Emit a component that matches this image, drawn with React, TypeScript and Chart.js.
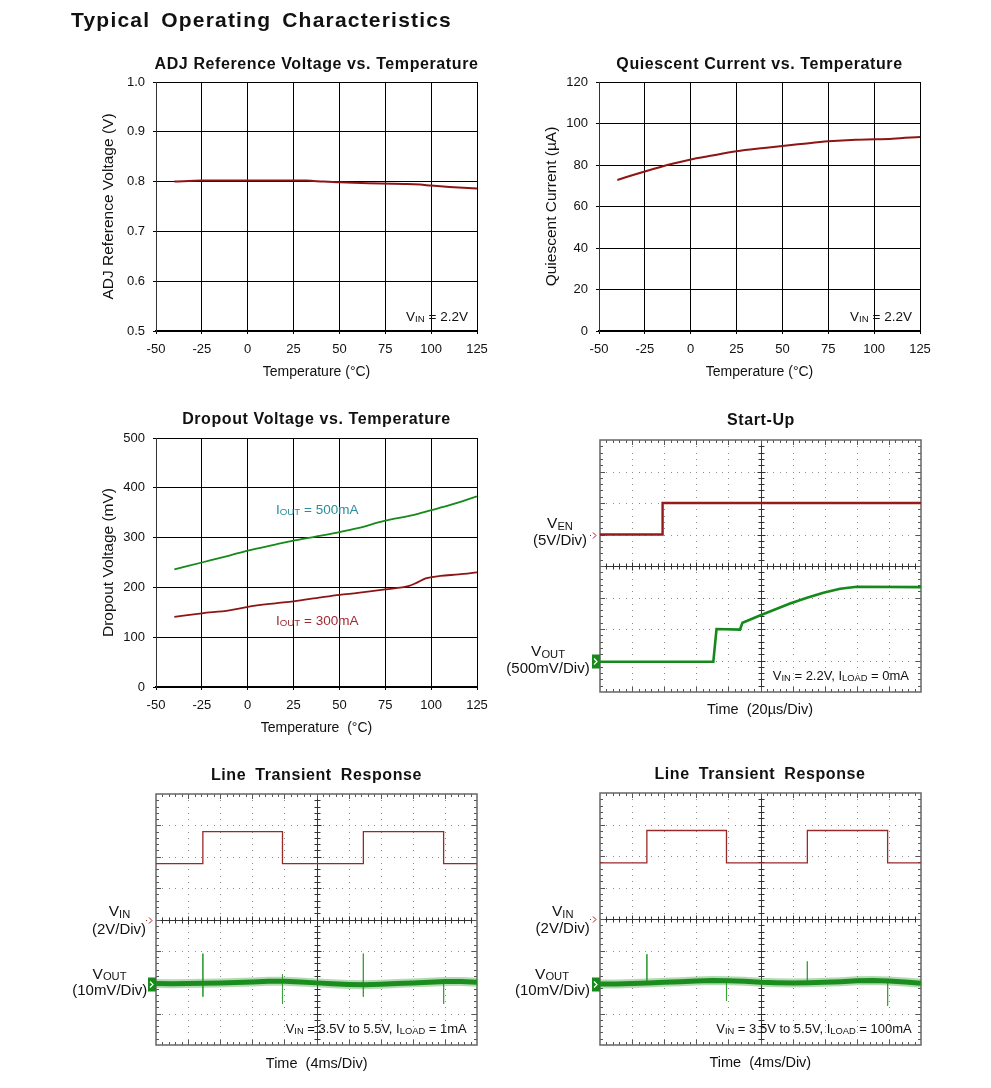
import React, { useEffect, useRef } from 'react';
import { Chart, registerables } from 'chart.js';

Chart.register(...registerables);

const FONT = '"Liberation Sans", Arial, Helvetica, sans-serif';
Chart.defaults.font.family = FONT;
const W = 991;
const H = 1088;

// ---------- data ----------
const TEMP_X_TICKS = ['-50', '-25', '0', '25', '50', '75', '100', '125'];

const ADJ_Y_TICKS = ['0.5', '0.6', '0.7', '0.8', '0.9', '1.0'];
const ADJ_T = [-40, -25, 0, 25, 32, 41, 50, 62, 73, 87, 94, 100, 110, 125];
const ADJ_V = [0.8, 0.802, 0.802, 0.802, 0.802, 0.8, 0.7987, 0.7973, 0.796, 0.7953, 0.794, 0.792, 0.7893, 0.7859];

const QC_Y_TICKS = ['0', '20', '40', '60', '80', '100', '120'];
const QC_T = [-40, -25, -10, 0, 10, 25, 40, 50, 60, 75, 90, 100, 110, 125];
const QC_I = [72.8, 76.9, 80.6, 82.7, 84.3, 86.6, 88.2, 89.2, 90.1, 91.4, 92.2, 92.4, 92.7, 93.5];

const DO_Y_TICKS = ['0', '100', '200', '300', '400', '500'];
const DO500_T = [-40, -25, -10, 0, 15, 25, 37, 50, 60, 75, 90, 100, 110, 125];
const DO500_V = [236, 250, 264, 274, 286, 294, 302, 311, 319, 334, 345, 355, 365, 383];
const DO300_T = [-40, -25, -10, 0, 15, 25, 40, 50, 60, 75, 88, 92, 97, 105, 115, 125];
const DO300_V = [141, 148, 154, 161, 168, 172, 180, 185, 189, 196, 203, 209, 218, 223, 226, 230];

// oscilloscope traces, in divisions (x: 0..10, y: 0..8)
const SU_VEN_T = [0, 1.95, 1.95, 10];
const SU_VEN_V = [5, 5, 6, 6];
const SU_VOUT_T = [0, 3.53, 3.63, 4.36, 4.42, 4.44, 4.98, 5.45, 5.92, 6.45, 6.96, 7.48, 8.0, 10];
const SU_VOUT_V = [0.96, 0.96, 2.0, 1.98, 2.15, 2.2, 2.43, 2.62, 2.81, 2.99, 3.15, 3.28, 3.34, 3.33];
const SU_MARK_VEN = 5;
const SU_MARK_VOUT = 0.97;

const LT_VIN_T = [0, 1.46, 1.46, 3.94, 3.94, 6.46, 6.46, 8.96, 8.96, 10];
const LT1_VIN_V = [5.78, 5.78, 6.8, 6.8, 5.78, 5.78, 6.8, 6.8, 5.78, 5.78];
const LT2_VIN_V = [5.78, 5.78, 6.81, 6.81, 5.78, 5.78, 6.81, 6.81, 5.78, 5.78];
const LT_VOUT_T = [0, 0.5, 1, 1.5, 2, 2.5, 3, 3.5, 4, 4.5, 5, 5.5, 6, 6.5, 7, 7.5, 8, 8.5, 9, 9.5, 10];
const LT1_VOUT_V = [1.96, 1.95, 1.96, 1.97, 1.98, 1.99, 2.01, 2.03, 2.03, 2.01, 1.98, 1.95, 1.93, 1.92, 1.94, 1.96, 1.98, 2.0, 2.02, 2.02, 2.0];
const LT2_VOUT_V = [1.94, 1.94, 1.95, 1.97, 1.99, 2.01, 2.03, 2.05, 2.04, 2.02, 1.99, 1.98, 1.97, 1.98, 1.99, 2.01, 2.04, 2.05, 2.03, 2.0, 1.96];
const LT_SPIKE_T = [1.46, 3.94, 6.46, 8.96];
const LT1_SPIKE_HI = [2.91, 2.25, 2.91, 2.09];
const LT1_SPIKE_LO = [1.54, 1.31, 1.54, 1.31];
const LT2_SPIKE_HI = [2.88, 2.05, 2.65, 2.05];
const LT2_SPIKE_LO = [1.95, 1.4, 1.95, 1.25];
const LT_MARK_VIN = 4;
const LT_MARK_VOUT = 1.95;

// ---------- helpers ----------
const RED = '#8e1515';
const GREEN = '#15891a';

const pts = (xs: number[], ys: number[]) => xs.map((x, i) => ({ x, y: ys[i] }));
const spikes = (ts: number[], hi: number[], lo: number[]) =>
  ts.flatMap((t, i) => [{ x: t, y: hi[i] }, { x: t, y: lo[i] }, { x: t, y: null as any }]);

type Part = { t: string; sub: boolean };
function parseRich(s: string): Part[] {
  const parts: Part[] = [];
  const re = /_\{([^}]*)\}/g;
  let last = 0;
  let m: RegExpExecArray | null;
  while ((m = re.exec(s))) {
    if (m.index > last) parts.push({ t: s.slice(last, m.index), sub: false });
    parts.push({ t: m[1], sub: true });
    last = re.lastIndex;
  }
  if (last < s.length) parts.push({ t: s.slice(last), sub: false });
  return parts;
}

type TextItem = {
  x: number; y: number; text: string; size: number; bold?: boolean; color?: string;
  align?: 'left' | 'center' | 'right'; ls?: number; ws?: number;
};

function textPlugin(items: TextItem[]) {
  return {
    id: 'pageTexts',
    afterDraw(chart: any) {
      const ctx = chart.ctx as CanvasRenderingContext2D;
      for (const it of items) {
        ctx.save();
        const c: any = ctx;
        c.letterSpacing = `${it.ls ?? 0}px`;
        c.wordSpacing = `${it.ws ?? 0}px`;
        ctx.fillStyle = it.color ?? '#111';
        ctx.textAlign = 'left';
        ctx.textBaseline = 'alphabetic';
        const parts = parseRich(it.text);
        const font = (p: Part) => `${it.bold ? 'bold ' : ''}${p.sub ? it.size * 0.72 : it.size}px ${FONT}`;
        const widths = parts.map((p) => { ctx.font = font(p); return ctx.measureText(p.t).width; });
        const total = widths.reduce((a, b) => a + b, 0);
        let x = it.align === 'right' ? it.x - total : it.align === 'center' ? it.x - total / 2 : it.x;
        const base = it.y + it.size * 0.358;
        parts.forEach((p, i) => {
          ctx.font = font(p);
          ctx.fillText(p.t, x, base + (p.sub ? it.size * 0.1 : 0));
          x += widths[i];
        });
        ctx.restore();
      }
    },
  };
}

type Marker = { level: number; kind: 'arrow' | 'box'; color: string };

function graticulePlugin(markers: Marker[]) {
  return {
    id: 'graticule',
    beforeDatasetsDraw(chart: any) {
      const ctx = chart.ctx as CanvasRenderingContext2D;
      const { left, top, right, bottom } = chart.chartArea;
      const xs = chart.scales.x;
      const ys = chart.scales.y;
      const X = (v: number) => Math.round(xs.getPixelForValue(v));
      const Y = (v: number) => Math.round(ys.getPixelForValue(v));
      ctx.save();
      ctx.fillStyle = '#8a8a8a';
      for (let i = 1; i < 10; i++) {
        if (i === 5) continue;
        const px = X(i);
        for (let k = 1; k < 40; k++) ctx.fillRect(px, Y(k / 5), 1, 1);
      }
      for (let j = 1; j < 8; j++) {
        if (j === 4) continue;
        const py = Y(j);
        for (let k = 1; k < 50; k++) ctx.fillRect(X(k / 5), py, 1, 1);
      }
      const cx = X(5) + 0.5;
      const cy = Y(4) + 0.5;
      ctx.strokeStyle = '#333';
      ctx.lineWidth = 1;
      ctx.beginPath();
      ctx.moveTo(cx, top); ctx.lineTo(cx, bottom);
      ctx.moveTo(left, cy); ctx.lineTo(right, cy);
      for (let k = 1; k < 50; k++) {
        const px = X(k / 5) + 0.5;
        const len = k % 5 === 0 ? 4 : 3;
        ctx.moveTo(px, cy - len); ctx.lineTo(px, cy + len);
      }
      for (let k = 1; k < 40; k++) {
        const py = Y(k / 5) + 0.5;
        const len = k % 5 === 0 ? 4 : 3;
        ctx.moveTo(cx - len, py); ctx.lineTo(cx + len, py);
      }
      ctx.stroke();
      ctx.strokeStyle = '#555';
      ctx.beginPath();
      for (let k = 1; k < 50; k++) {
        const px = X(k / 5) + 0.5;
        const len = k % 5 === 0 ? 5 : 3;
        ctx.moveTo(px, top); ctx.lineTo(px, top + len);
        ctx.moveTo(px, bottom); ctx.lineTo(px, bottom - len);
      }
      for (let k = 1; k < 40; k++) {
        const py = Y(k / 5) + 0.5;
        const len = k % 5 === 0 ? 5 : 3;
        ctx.moveTo(left, py); ctx.lineTo(left + len, py);
        ctx.moveTo(right, py); ctx.lineTo(right - len, py);
      }
      ctx.stroke();
      ctx.strokeStyle = '#666';
      ctx.lineWidth = 1.5;
      ctx.strokeRect(left, top, right - left, bottom - top);
      ctx.restore();
    },
    afterDraw(chart: any) {
      const ctx = chart.ctx as CanvasRenderingContext2D;
      const { left } = chart.chartArea;
      const ys = chart.scales.y;
      ctx.save();
      for (const m of markers) {
        const py = Math.round(ys.getPixelForValue(m.level)) + 0.5;
        if (m.kind === 'box') {
          ctx.fillStyle = m.color;
          ctx.fillRect(left - 8, py - 7, 8, 14);
          ctx.strokeStyle = '#fff';
          ctx.lineWidth = 1.2;
          ctx.beginPath();
          ctx.moveTo(left - 6, py - 3); ctx.lineTo(left - 3, py); ctx.lineTo(left - 6, py + 3);
          ctx.stroke();
        } else {
          ctx.strokeStyle = m.color;
          ctx.fillStyle = m.color;
          ctx.lineWidth = 1;
          ctx.beginPath();
          ctx.moveTo(left - 7, py - 3); ctx.lineTo(left - 4, py); ctx.lineTo(left - 7, py + 3);
          ctx.stroke();
          ctx.fillRect(left - 10, py - 0.5, 1, 1);
        }
      }
      ctx.restore();
    },
  };
}

type Area = { l: number; t: number; r: number; b: number };

function tempConfig(o: {
  area: Area; yMin: number; yMax: number; yStep: number; yTicks: string[];
  yTitle: string; yTitleX: number; xTitle: string; xTitleY: number; datasets: any[]; texts: TextItem[];
}): any {
  const YW = 70;
  const XH = 55;
  const { l, t, r, b } = o.area;
  return {
    type: 'line',
    data: { datasets: o.datasets },
    options: {
      animation: false,
      responsive: false,
      events: [],
      layout: { padding: { left: l - YW, top: t, right: W - r, bottom: H - b - XH } },
      plugins: { legend: { display: false }, tooltip: { enabled: false } },
      elements: { point: { radius: 0 } },
      scales: {
        x: {
          type: 'linear', min: -50, max: 125,
          afterFit: (s: any) => { s.height = XH; },
          ticks: {
            stepSize: 25, autoSkip: false, maxRotation: 0, color: '#111', padding: 8,
            font: { size: 13, family: FONT },
            callback: (v: number) => TEMP_X_TICKS[Math.round((v + 50) / 25)],
          },
          grid: { color: '#000', lineWidth: 1, drawTicks: true, tickLength: 3 },
          border: { color: '#000', width: 2 },
          title: {
            display: true, text: o.xTitle, color: '#111', font: { size: 14, family: FONT },
            padding: { top: 0, bottom: b + XH - o.xTitleY - 8.4 },
          },
        },
        y: {
          type: 'linear', min: o.yMin, max: o.yMax,
          afterFit: (s: any) => { s.width = YW; },
          ticks: {
            stepSize: o.yStep, autoSkip: false, color: '#111', padding: 8,
            font: { size: 13, family: FONT },
            callback: (v: number) => o.yTicks[Math.round((v - o.yMin) / o.yStep)],
          },
          grid: { color: '#000', lineWidth: 1, drawTicks: true, tickLength: 3 },
          border: { color: '#333', width: 1 },
          title: {
            display: true, text: o.yTitle, color: '#111', font: { size: 15.5, family: FONT },
            padding: { top: o.yTitleX - (l - YW) - 9.3, bottom: 0 },
          },
        },
      },
    },
    plugins: [textPlugin(o.texts)],
  };
}

function scopeConfig(o: { area: Area; datasets: any[]; texts: TextItem[]; markers: Marker[] }): any {
  const { l, t, r, b } = o.area;
  return {
    type: 'line',
    data: { datasets: o.datasets },
    options: {
      animation: false,
      responsive: false,
      events: [],
      layout: { padding: { left: l, top: t, right: W - r, bottom: H - b } },
      plugins: { legend: { display: false }, tooltip: { enabled: false } },
      elements: { point: { radius: 0 }, line: { tension: 0 } },
      scales: {
        x: { type: 'linear', min: 0, max: 10, display: false },
        y: { type: 'linear', min: 0, max: 8, display: false },
      },
    },
    plugins: [graticulePlugin(o.markers), textPlugin(o.texts)],
  };
}

const tempLine = (xs: number[], ys: number[], color: string, width = 2) => ({
  data: pts(xs, ys), borderColor: color, borderWidth: width, pointRadius: 0,
  cubicInterpolationMode: 'monotone', fill: false,
});

const scopeLine = (xs: number[], ys: number[], color: string, width: number) => ({
  data: pts(xs, ys), borderColor: color, borderWidth: width, pointRadius: 0, fill: false, spanGaps: false,
});

const TITLE = (x: number, y: number, text: string, ws = 0): TextItem =>
  ({ x, y, text, size: 16, bold: true, align: 'center', ls: 0.6, ws });

function buildConfigs(): any[] {
  const p1 = tempConfig({
    area: { l: 156, t: 82, r: 477, b: 331 },
    yMin: 0.5, yMax: 1.0, yStep: 0.1, yTicks: ADJ_Y_TICKS,
    yTitle: 'ADJ Reference Voltage (V)', yTitleX: 108.5,
    xTitle: 'Temperature (°C)', xTitleY: 372,
    datasets: [tempLine(ADJ_T, ADJ_V, RED)],
    texts: [
      { x: 71, y: 19.7, text: 'Typical Operating Characteristics', size: 21, bold: true, ls: 1.2, ws: 4 },
      TITLE(316.5, 63, 'ADJ Reference Voltage vs. Temperature'),
      { x: 468, y: 316, text: 'V_{IN} = 2.2V', size: 13.5, align: 'right' },
    ],
  });
  const p2 = tempConfig({
    area: { l: 599, t: 82, r: 920, b: 331 },
    yMin: 0, yMax: 120, yStep: 20, yTicks: QC_Y_TICKS,
    yTitle: 'Quiescent Current (µA)', yTitleX: 551.5,
    xTitle: 'Temperature (°C)', xTitleY: 372,
    datasets: [tempLine(QC_T, QC_I, RED)],
    texts: [
      TITLE(759.5, 63, 'Quiescent Current vs. Temperature'),
      { x: 912, y: 316, text: 'V_{IN} = 2.2V', size: 13.5, align: 'right' },
    ],
  });
  const p3 = tempConfig({
    area: { l: 156, t: 438, r: 477, b: 687 },
    yMin: 0, yMax: 500, yStep: 100, yTicks: DO_Y_TICKS,
    yTitle: 'Dropout Voltage (mV)', yTitleX: 108.3,
    xTitle: 'Temperature  (°C)', xTitleY: 728,
    datasets: [tempLine(DO500_T, DO500_V, GREEN, 1.8), tempLine(DO300_T, DO300_V, RED, 1.8)],
    texts: [
      TITLE(316.5, 418.5, 'Dropout Voltage vs. Temperature'),
      { x: 276, y: 509, text: 'I_{OUT} = 500mA', size: 13.5, color: '#2a8c9c' },
      { x: 276, y: 620, text: 'I_{OUT} = 300mA', size: 13.5, color: '#a02a32' },
    ],
  });
  const p4 = scopeConfig({
    area: { l: 600, t: 440, r: 921, b: 692 },
    datasets: [
      scopeLine(SU_VEN_T, SU_VEN_V, '#951a1a', 2.4),
      scopeLine(SU_VOUT_T, SU_VOUT_V, GREEN, 2.6),
    ],
    markers: [
      { level: SU_MARK_VEN, kind: 'arrow', color: '#a02020' },
      { level: SU_MARK_VOUT, kind: 'box', color: '#168a1a' },
    ],
    texts: [
      TITLE(761, 419, 'Start-Up'),
      { x: 560, y: 522.7, text: 'V_{EN}', size: 15.5, align: 'center' },
      { x: 560, y: 540, text: '(5V/Div)', size: 15, align: 'center' },
      { x: 548, y: 650.7, text: 'V_{OUT}', size: 15.5, align: 'center' },
      { x: 548, y: 667.7, text: '(500mV/Div)', size: 15, align: 'center' },
      { x: 909, y: 675, text: 'V_{IN} = 2.2V, I_{LOAD} = 0mA', size: 13, align: 'right' },
      { x: 760, y: 709, text: 'Time  (20µs/Div)', size: 14.5, align: 'center' },
    ],
  });
  const ltDatasets = (vin: number[], vout: number[], hi: number[], lo: number[]) => [
    scopeLine(LT_VIN_T, vin, '#9a2a2a', 1.3),
    scopeLine(LT_VOUT_T, vout, 'rgba(40,150,40,0.35)', 9),
    scopeLine(LT_VOUT_T, vout, GREEN, 5),
    { data: spikes(LT_SPIKE_T, hi, lo), borderColor: '#3aa23a', borderWidth: 1, pointRadius: 0, spanGaps: false, fill: false },
  ];
  const p5 = scopeConfig({
    area: { l: 156, t: 794, r: 477, b: 1045 },
    datasets: ltDatasets(LT1_VIN_V, LT1_VOUT_V, LT1_SPIKE_HI, LT1_SPIKE_LO),
    markers: [
      { level: LT_MARK_VIN, kind: 'arrow', color: '#a02020' },
      { level: LT_MARK_VOUT, kind: 'box', color: '#168a1a' },
    ],
    texts: [
      TITLE(316.5, 774, 'Line Transient Response', 4),
      { x: 119.5, y: 910.7, text: 'V_{IN}', size: 15.5, align: 'center' },
      { x: 119, y: 928.3, text: '(2V/Div)', size: 15, align: 'center' },
      { x: 109.5, y: 973, text: 'V_{OUT}', size: 15.5, align: 'center' },
      { x: 109.7, y: 990, text: '(10mV/Div)', size: 15, align: 'center' },
      { x: 466.7, y: 1028, text: 'V_{IN} = 3.5V to 5.5V, I_{LOAD} = 1mA', size: 13, align: 'right' },
      { x: 316.7, y: 1062.5, text: 'Time  (4ms/Div)', size: 14.5, align: 'center' },
    ],
  });
  const p6 = scopeConfig({
    area: { l: 600, t: 793, r: 921, b: 1045 },
    datasets: ltDatasets(LT2_VIN_V, LT2_VOUT_V, LT2_SPIKE_HI, LT2_SPIKE_LO),
    markers: [
      { level: LT_MARK_VIN, kind: 'arrow', color: '#a02020' },
      { level: LT_MARK_VOUT, kind: 'box', color: '#168a1a' },
    ],
    texts: [
      TITLE(760, 773.5, 'Line Transient Response', 4),
      { x: 562.7, y: 910.7, text: 'V_{IN}', size: 15.5, align: 'center' },
      { x: 562.7, y: 928, text: '(2V/Div)', size: 15, align: 'center' },
      { x: 552, y: 973, text: 'V_{OUT}', size: 15.5, align: 'center' },
      { x: 552.5, y: 990, text: '(10mV/Div)', size: 15, align: 'center' },
      { x: 911.7, y: 1028, text: 'V_{IN} = 3.5V to 5.5V, I_{LOAD} = 100mA', size: 13, align: 'right' },
      { x: 760.3, y: 1061.7, text: 'Time  (4ms/Div)', size: 14.5, align: 'center' },
    ],
  });
  return [p1, p2, p3, p4, p5, p6];
}

const PANEL_COUNT = 6;

export default function App() {
  const refs = useRef<(HTMLCanvasElement | null)[]>([]);
  useEffect(() => {
    const configs = buildConfigs();
    const charts = configs.map((cfg, i) => new Chart(refs.current[i] as HTMLCanvasElement, cfg));
    return () => charts.forEach((c) => c.destroy());
  }, []);
  return (
    <div style={{ position: 'absolute', left: 0, top: 0, width: W, height: H, overflow: 'hidden', background: '#fff' }}>
      {Array.from({ length: PANEL_COUNT }).map((_, i) => (
        <canvas
          key={i}
          ref={(el) => { refs.current[i] = el; }}
          width={W}
          height={H}
          style={{ position: 'absolute', left: 0, top: 0, width: W, height: H }}
        />
      ))}
    </div>
  );
}
